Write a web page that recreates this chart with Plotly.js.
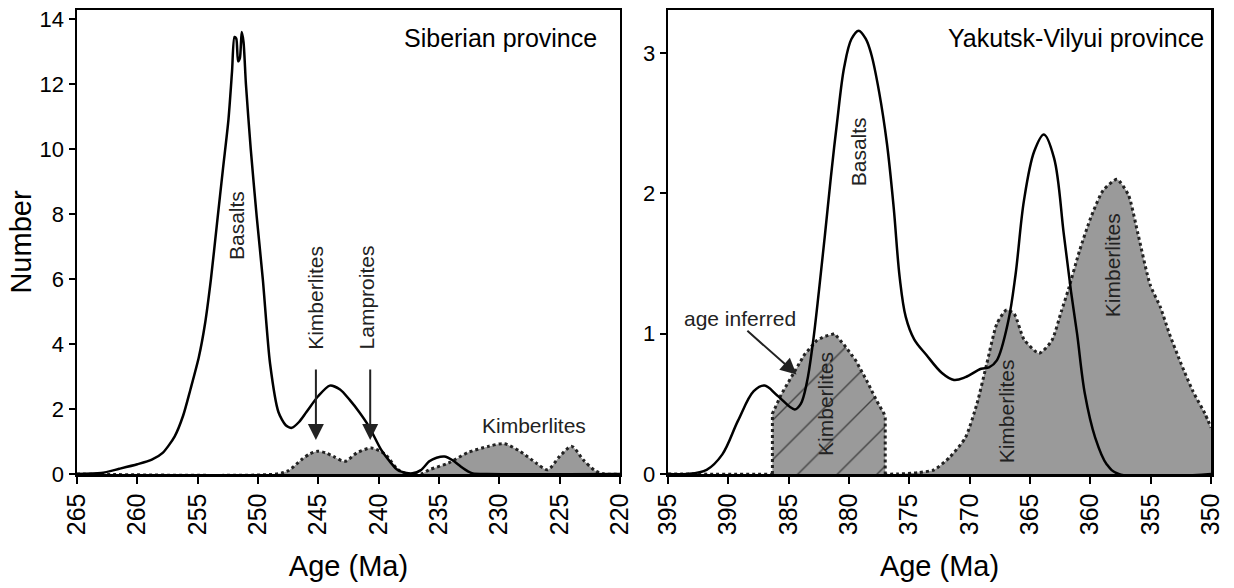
<!DOCTYPE html>
<html>
<head>
<meta charset="utf-8">
<script src="https://cdn.plot.ly/plotly-3.0.1.min.js"></script>
<style>html,body{margin:0;padding:0;background:#fff;}#chart{width:1234px;height:588px;}</style>
</head>
<body>
<div id="chart"></div>
<script>
// ---- Siberian province ----
const sibBasaltAge = [265, 263, 261.5, 260, 258.8, 257.9, 256.9, 256.2, 255.6, 254.9, 254.4, 253.9, 253.4, 252.9, 252.45, 252.15, 251.95, 251.8, 251.65, 251.5, 251.35, 251.2, 251.0, 250.6, 250.1, 249.6, 249.0, 248.3, 247.7, 247.2, 246.6, 246.0, 245.0, 244.05, 243.2, 242.4, 241.6, 240.8, 239.8, 239.0, 238.45, 237.7, 237.2, 236.5, 235.8, 235.2, 234.55, 233.9, 233.2, 232.6, 232.2, 231, 220];
const sibBasaltN   = [0, 0.03, 0.16, 0.3, 0.44, 0.65, 1.16, 1.8, 2.6, 3.6, 4.6, 6.0, 7.7, 9.4, 10.9, 12.4, 13.45, 13.4, 12.7, 12.8, 13.6, 13.3, 12.0, 10.0, 7.9, 6.0, 3.4, 1.9, 1.5, 1.42, 1.6, 1.9, 2.4, 2.72, 2.6, 2.28, 1.9, 1.46, 0.75, 0.35, 0.13, 0.03, 0.02, 0.12, 0.39, 0.5, 0.54, 0.43, 0.23, 0.08, 0.02, 0, 0];
const sibKimbAge = [265, 248.5, 247.5, 246.4, 245.7, 245.05, 244.4, 243.75, 242.8, 241.8, 240.6, 239.45, 238.45, 237.7, 236.5, 235.8, 234.2, 232.6, 230.9, 229.6, 228.3, 226.95, 226.0, 225.0, 224.0, 223.05, 222.05, 221.3, 220];
const sibKimbN   = [0, 0, 0.1, 0.44, 0.62, 0.7, 0.65, 0.54, 0.39, 0.65, 0.8, 0.6, 0.15, 0, 0, 0.13, 0.34, 0.66, 0.85, 0.93, 0.7, 0.34, 0.13, 0.54, 0.85, 0.44, 0.1, 0, 0];
const sibXTicks = [265, 260, 255, 250, 245, 240, 235, 230, 225, 220];
const sibYTicks = [0, 2, 4, 6, 8, 10, 12, 14];

// ---- Yakutsk-Vilyui province ----
const yakBasaltAge = [395, 393.45, 391.8, 390.5, 389.2, 387.9, 387.0, 385.95, 384.5, 384.0, 383.5, 383.0, 382.5, 382.0, 381.5, 381.0, 380.4, 379.8, 379.2, 378.6, 378.15, 377.5, 376.85, 376.3, 375.8, 375.3, 374.6, 373.6, 372.3, 371.3, 370.35, 369.05, 368.4, 367.75, 366.8, 366.2, 365.5, 364.65, 363.85, 363.0, 362.2, 361.6, 361.1, 360.45, 359.6, 358.65, 357.65, 350];
const yakBasaltN   = [0, 0, 0.03, 0.14, 0.38, 0.59, 0.63, 0.56, 0.46, 0.5, 0.65, 0.93, 1.3, 1.7, 2.12, 2.5, 2.9, 3.1, 3.16, 3.1, 2.99, 2.72, 2.35, 1.9, 1.4, 1.12, 0.96, 0.85, 0.72, 0.67, 0.69, 0.75, 0.76, 0.81, 1.09, 1.42, 1.95, 2.3, 2.42, 2.25, 1.71, 1.3, 1.0, 0.57, 0.26, 0.07, 0, 0];
const yakKimbInfAge = [386.35, 386.35, 385.6, 384.65, 383.7, 382.7, 382.05, 381.2, 380.4, 379.45, 378.5, 377.7, 377.1, 377.0, 377.0];
const yakKimbInfN   = [0, 0.43, 0.57, 0.71, 0.85, 0.95, 0.98, 1.0, 0.92, 0.81, 0.66, 0.52, 0.43, 0.4, 0];
const yakKimbAge = [395, 376, 374.25, 372.95, 371.65, 370.35, 369.4, 368.6, 367.75, 366.95, 366.3, 365.5, 364.25, 363.2, 362.4, 361.8, 360.9, 359.95, 358.95, 357.8, 356.85, 356.05, 355.05, 354.2, 353.45, 352.45, 351.5, 350.5, 350];
const yakKimbN   = [0, 0, 0.01, 0.03, 0.12, 0.26, 0.5, 0.78, 1.07, 1.17, 1.14, 0.96, 0.86, 0.95, 1.16, 1.32, 1.59, 1.83, 2.02, 2.1, 1.99, 1.71, 1.35, 1.19, 1.0, 0.78, 0.59, 0.43, 0.33];
const yakXTicks = [395, 390, 385, 380, 375, 370, 365, 360, 355, 350];
const yakYTicks = [0, 1, 2, 3];

const FONT = 'Liberation Sans, Arial, Helvetica, sans-serif';
const GRAY = '#9a9a9a';
const DOT = {color: '#222', width: 3, dash: 'dot'};

const traces = [
  {x: sibKimbAge, y: sibKimbN, xaxis: 'x', yaxis: 'y', type: 'scatter', mode: 'lines',
   fill: 'tozeroy', fillcolor: GRAY, line: Object.assign({shape: 'spline', smoothing: 0.8}, DOT), name: 'Kimberlites', showlegend: false, hoverinfo: 'skip'},
  {x: sibBasaltAge, y: sibBasaltN, xaxis: 'x', yaxis: 'y', type: 'scatter', mode: 'lines',
   line: {color: '#000', width: 2.5, shape: 'spline', smoothing: 0.7}, name: 'Basalts', showlegend: false, hoverinfo: 'skip'},
  {x: yakKimbAge, y: yakKimbN, xaxis: 'x2', yaxis: 'y2', type: 'scatter', mode: 'lines',
   fill: 'tozeroy', fillcolor: GRAY, line: Object.assign({shape: 'spline', smoothing: 0.6}, DOT), name: 'Kimberlites', showlegend: false, hoverinfo: 'skip'},
  {x: yakKimbInfAge, y: yakKimbInfN, xaxis: 'x2', yaxis: 'y2', type: 'scatter', mode: 'lines',
   fill: 'tozeroy', fillcolor: GRAY,
   fillpattern: {shape: '/', fgcolor: '#444', bgcolor: GRAY, size: 28, solidity: 0.05},
   line: DOT, name: 'Kimberlites (age inferred)', showlegend: false, hoverinfo: 'skip'},
  {x: yakBasaltAge, y: yakBasaltN, xaxis: 'x2', yaxis: 'y2', type: 'scatter', mode: 'lines',
   line: {color: '#000', width: 2.5, shape: 'spline', smoothing: 1}, name: 'Basalts', showlegend: false, hoverinfo: 'skip'}
];

function xAxis(range, ticks, domain, anchor) {
  return {
    domain: domain, range: range, anchor: anchor, tickmode: 'array', tickvals: ticks,
    ticks: 'outside', ticklen: 7, tickwidth: 2, tickcolor: '#000', tickangle: -90,
    tickfont: {family: FONT, size: 25, color: '#000'},
    showline: true, linecolor: '#000', linewidth: 2.5, mirror: true,
    showgrid: false, zeroline: false, fixedrange: true,
    title: {text: 'Age (Ma)', font: {family: FONT, size: 29, color: '#000'}, standoff: 22}
  };
}
function yAxis(range, ticks, anchor, title) {
  return {
    domain: [0, 1], range: range, anchor: anchor, tickmode: 'array', tickvals: ticks,
    ticks: 'outside', ticklen: 6, tickwidth: 2, tickcolor: '#000',
    tickfont: {family: FONT, size: 22, color: '#000'},
    showline: true, linecolor: '#000', linewidth: 2.5, mirror: true,
    showgrid: false, zeroline: false, fixedrange: true,
    title: {text: title, font: {family: FONT, size: 29, color: '#000'}, standoff: 0}
  };
}

const ann = (o) => Object.assign({font: {family: FONT, size: 21, color: '#222'}, showarrow: false}, o);
const arrow = (xref, yref, x, y, ax, ay) => ({xref: xref, yref: yref, axref: xref, ayref: yref, x: x, y: y, ax: ax, ay: ay,
  text: '', showarrow: true, arrowhead: 2, arrowsize: 1.6, arrowwidth: 2, arrowcolor: '#222'});

const layout = {
  width: 1234, height: 588,
  margin: {l: 77, r: 23, t: 10, b: 114},
  paper_bgcolor: '#fff', plot_bgcolor: '#fff',
  showlegend: false,
  xaxis: xAxis([265, 220], sibXTicks, [0, 0.4788], 'y'),
  yaxis: yAxis([0, 14.28], sibYTicks, 'x', 'Number'),
  xaxis2: xAxis([395, 350], yakXTicks, [0.5212, 1], 'y2'),
  yaxis2: yAxis([0, 3.307], yakYTicks, 'x2', ''),
  annotations: [
    ann({xref: 'x domain', yref: 'y domain', x: 0.962, y: 0.94, xanchor: 'right', yanchor: 'middle', text: 'Siberian province', font: {family: FONT, size: 25, color: '#000'}}),
    ann({xref: 'x', yref: 'y', x: 251.8, y: 7.64, text: 'Basalts', textangle: -90}),
    ann({xref: 'x', yref: 'y', x: 245.25, y: 5.43, text: 'Kimberlites', textangle: -90}),
    ann({xref: 'x', yref: 'y', x: 241.0, y: 5.42, text: 'Lamproites', textangle: -90}),
    ann({xref: 'x', yref: 'y', x: 227.1, y: 1.5, text: 'Kimberlites'}),
    arrow('x', 'y', 245.2, 1.05, 245.2, 3.26),
    arrow('x', 'y', 240.7, 1.05, 240.7, 3.26),
    ann({xref: 'x2 domain', yref: 'y2 domain', x: 0.99, y: 0.94, xanchor: 'right', yanchor: 'middle', text: 'Yakutsk-Vilyui province', font: {family: FONT, size: 25, color: '#000'}}),
    ann({xref: 'x2', yref: 'y2', x: 379.26, y: 2.3, text: 'Basalts', textangle: -90}),
    ann({xref: 'x2', yref: 'y2', x: 381.9, y: 0.5, text: 'Kimberlites', textangle: -90}),
    ann({xref: 'x2', yref: 'y2', x: 366.95, y: 0.45, text: 'Kimberlites', textangle: -90}),
    ann({xref: 'x2', yref: 'y2', x: 358.1, y: 1.49, text: 'Kimberlites', textangle: -90}),
    ann({xref: 'x2', yref: 'y2', x: 389.0, y: 1.11, text: 'age inferred'}),
    arrow('x2', 'y2', 384.35, 0.71, 388.55, 1.03)
  ]
};

Plotly.newPlot('chart', traces, layout, {staticPlot: true, displayModeBar: false});
</script>
</body>
</html>
